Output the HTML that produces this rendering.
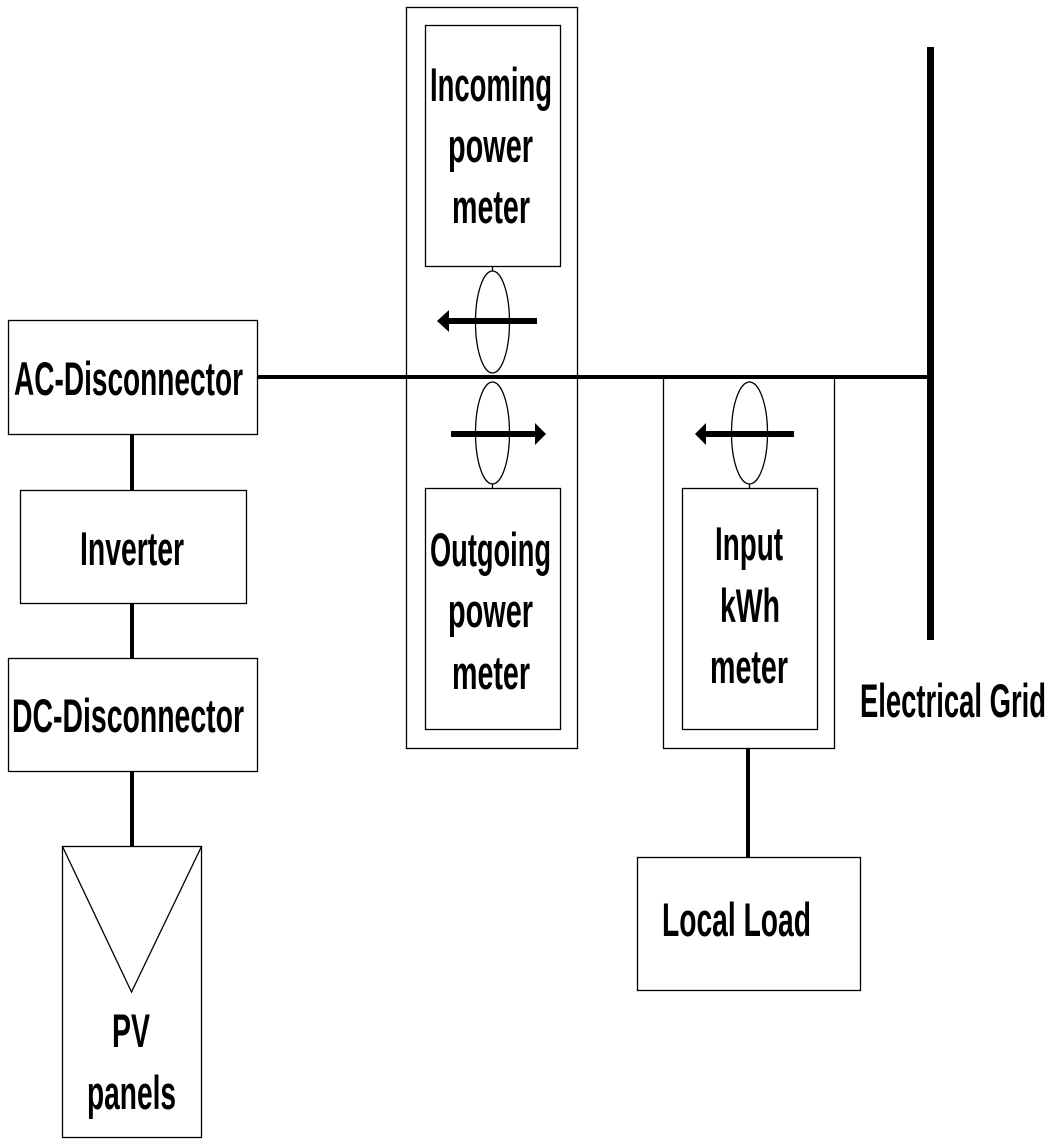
<!DOCTYPE html>
<html><head><meta charset="utf-8"><style>html,body{margin:0;padding:0;background:#fff}svg{display:block}</style></head>
<body>
<svg width="1053" height="1142" viewBox="0 0 1053 1142" xmlns="http://www.w3.org/2000/svg" font-family="Liberation Sans, Arial, sans-serif" font-size="47" fill="none" stroke="#000">
<g stroke-width="1.3">
<rect x="8.5" y="320.5" width="249" height="114"/>
<rect x="20.5" y="490.5" width="226" height="113"/>
<rect x="8.5" y="658.5" width="249" height="113"/>
<rect x="62.5" y="846.5" width="139" height="291"/>
<polyline points="62.5,846.5 131.5,992 201.5,846.5"/>
<rect x="406.5" y="7.5" width="171" height="741"/>
<rect x="425.5" y="25.5" width="135" height="241"/>
<rect x="425.5" y="488.5" width="135" height="241"/>
<rect x="663.5" y="377.5" width="171" height="371"/>
<rect x="682.5" y="488.5" width="135" height="241"/>
<rect x="637.5" y="857.5" width="223" height="133"/>
<ellipse cx="492.5" cy="322" rx="17" ry="51"/>
<ellipse cx="492.5" cy="433" rx="17" ry="51"/>
<ellipse cx="749.5" cy="433" rx="18" ry="51"/>
<line x1="492.5" y1="266" x2="492.5" y2="271"/>
<line x1="492.5" y1="484" x2="492.5" y2="488"/>
<line x1="749.5" y1="484" x2="749.5" y2="488"/>
</g>
<g stroke-width="4">
<line x1="132" y1="434" x2="132" y2="490"/>
<line x1="132" y1="603" x2="132" y2="658"/>
<line x1="132" y1="771" x2="132" y2="846"/>
<line x1="257" y1="377" x2="930" y2="377"/>
<line x1="748" y1="748" x2="748" y2="857"/>
</g>
<line x1="930.5" y1="47" x2="930.5" y2="640" stroke-width="7"/>
<g stroke="none" fill="#000">
<rect x="445" y="318" width="92" height="6"/>
<polygon points="437,321 449,310 449,332"/>
<rect x="451" y="431" width="86" height="6"/>
<polygon points="546,434 535,423 535,445"/>
<rect x="705" y="431" width="89" height="6"/>
<polygon points="695,434 706,423 706,445"/>
</g>
<g stroke="none" fill="#000" font-weight="bold">
<text x="14" y="395" textLength="229" lengthAdjust="spacingAndGlyphs">AC-Disconnector</text>
<text x="80" y="565" textLength="104" lengthAdjust="spacingAndGlyphs">Inverter</text>
<text x="12" y="732" textLength="232" lengthAdjust="spacingAndGlyphs">DC-Disconnector</text>
<text x="112" y="1047" textLength="38" lengthAdjust="spacingAndGlyphs">PV</text>
<text x="87" y="1109" textLength="89" lengthAdjust="spacingAndGlyphs">panels</text>
<text x="430" y="101" textLength="122" lengthAdjust="spacingAndGlyphs">Incoming</text>
<text x="448" y="162" textLength="85" lengthAdjust="spacingAndGlyphs">power</text>
<text x="452" y="223" textLength="78" lengthAdjust="spacingAndGlyphs">meter</text>
<text x="430" y="566" textLength="121" lengthAdjust="spacingAndGlyphs">Outgoing</text>
<text x="448" y="627" textLength="85" lengthAdjust="spacingAndGlyphs">power</text>
<text x="452" y="689" textLength="78" lengthAdjust="spacingAndGlyphs">meter</text>
<text x="715" y="560" textLength="68" lengthAdjust="spacingAndGlyphs">Input</text>
<text x="720" y="622" textLength="60" lengthAdjust="spacingAndGlyphs">kWh</text>
<text x="710" y="683" textLength="78" lengthAdjust="spacingAndGlyphs">meter</text>
<text x="662" y="936" textLength="149" lengthAdjust="spacingAndGlyphs">Local Load</text>
<text x="860" y="717" textLength="186" lengthAdjust="spacingAndGlyphs">Electrical Grid</text>
</g>
</svg>
</body></html>
